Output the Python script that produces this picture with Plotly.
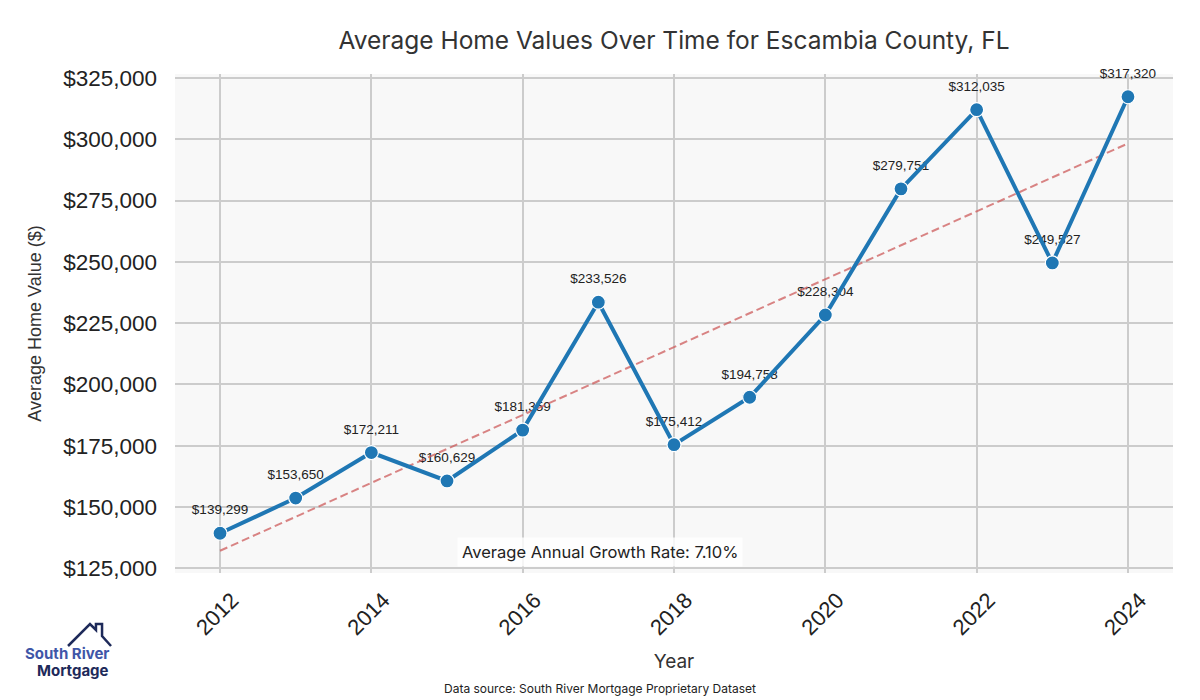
import numpy as np
import plotly.graph_objects as go

# data
years = [2012, 2013, 2014, 2015, 2016, 2017, 2018, 2019, 2020, 2021, 2022, 2023, 2024]
home_values = [139299, 153650, 172211, 160629, 181359, 233526, 175412,
               194758, 228304, 279751, 312035, 249527, 317320]
year_ticks = [2012, 2014, 2016, 2018, 2020, 2022, 2024]
value_ticks = [125000, 150000, 175000, 200000, 225000, 250000, 275000, 300000, 325000]

# trend line + growth rate from the data
slope, intercept = np.polyfit(years, home_values, 1)
trend = [slope * y + intercept for y in years]
n_years = years[-1] - years[0]
cagr = (home_values[-1] / home_values[0]) ** (1 / n_years) - 1

GEO = "Inter, 'Open Sans', sans-serif"
ARIAL = "'Liberation Sans', Arial, sans-serif"

# page body adds 8px around the figure, so shrink and shift to compensate
OFF = 8
W, H = 1200 - OFF, 700 - OFF
L, T = 175 - OFF, 74 - OFF
R, B = 1200 - 1173, 700 - 573
PW, PH = W - L - R, H - T - B


def px(x):
    # screen pixel -> paper x
    return (x - OFF - L) / PW


def py(y):
    # screen pixel -> paper y
    return (H - B - (y - OFF)) / PH


fig = go.Figure()

# value labels (drawn first so the line sits over them)
fig.add_trace(go.Scatter(
    x=years, y=home_values, mode="markers+text",
    marker=dict(size=23, opacity=0),
    text=[f"${v:,.0f}" for v in home_values],
    textposition="top center",
    textfont=dict(family=ARIAL, size=13.5, color="#222222"),
    hoverinfo="skip", showlegend=False, cliponaxis=False,
))

fig.add_trace(go.Scatter(
    x=years, y=trend, mode="lines",
    line=dict(color="rgba(205,92,92,0.75)", width=2, dash="8px,4px"),
    showlegend=False,
))

fig.add_trace(go.Scatter(
    x=years, y=home_values, mode="lines+markers",
    line=dict(color="#1f77b4", width=4),
    marker=dict(size=14, color="#1f77b4", line=dict(color="white", width=1.2)),
    showlegend=False, cliponaxis=False,
))

fig.update_layout(
    width=W, height=H,
    margin=dict(l=L, r=R, t=T, b=B),
    paper_bgcolor="white",
    plot_bgcolor="#f8f8f8",
    title=dict(text="Average Home Values Over Time for Escambia County, FL",
               x=px(674), xref="paper", xanchor="center",
               y=1 - (40 - OFF) / H, yanchor="middle",
               font=dict(family=GEO, size=24.5, color="#333333")),
)

fig.update_xaxes(
    range=[2011.405, 2024.595],
    tickvals=year_ticks, ticktext=[str(y) for y in year_ticks],
    tickangle=-45, ticklabelshift=12, ticklabelstandoff=9,
    tickfont=dict(family=ARIAL, size=22, color="#222222"),
    showgrid=True, gridcolor="#cccccc", gridwidth=2,
    zeroline=False, showline=False, ticks="",
    title=dict(text="Year", standoff=15,
               font=dict(family=GEO, size=19, color="#333333")),
)

fig.update_yaxes(
    range=[123080, 326600],
    tickvals=value_ticks, tickformat="$,.0f",
    tickfont=dict(family=ARIAL, size=22.5, color="#222222"),
    ticklabelstandoff=17,
    showgrid=True, gridcolor="#cccccc", gridwidth=2,
    zeroline=False, showline=False, ticks="",
    title=dict(text="Average Home Value ($)", standoff=16,
               font=dict(family=ARIAL, size=18, color="#333333")),
)

# growth-rate box
fig.add_annotation(
    x=px(600), y=py(552), xref="paper", yref="paper",
    xanchor="center", yanchor="middle",
    text=f"Average Annual Growth Rate: {cagr * 100:.2f}%",
    showarrow=False, font=dict(family=GEO, size=16.5, color="#222222"),
    bgcolor="rgba(255,255,255,0.8)", borderpad=4,
)

# data source footer
fig.add_annotation(
    x=px(600), y=py(688), xref="paper", yref="paper",
    xanchor="center", yanchor="middle",
    text="Data source: South River Mortgage Proprietary Dataset",
    showarrow=False, font=dict(family=GEO, size=12, color="#222222"),
)

# logo: house outline + wordmark
house = [(68, 646), (90, 624), (96, 630), (96, 624), (102, 624), (102, 636), (111, 646)]
path = "M " + " L ".join(f"{px(a):.4f},{py(b):.4f}" for a, b in house)
fig.add_shape(type="path", path=path, xref="paper", yref="paper",
              line=dict(color="#1e2a5a", width=2.5))
fig.add_annotation(
    x=px(67), y=py(653), xref="paper", yref="paper",
    xanchor="center", yanchor="middle",
    text="<b>South River</b>", showarrow=False,
    font=dict(family=GEO, size=15, color="#3f56a8"),
)
fig.add_annotation(
    x=px(73), y=py(670), xref="paper", yref="paper",
    xanchor="center", yanchor="middle",
    text="<b>Mortgage</b>", showarrow=False,
    font=dict(family=GEO, size=15, color="#1e2a5a"),
)

fig.write_html("out.html")
